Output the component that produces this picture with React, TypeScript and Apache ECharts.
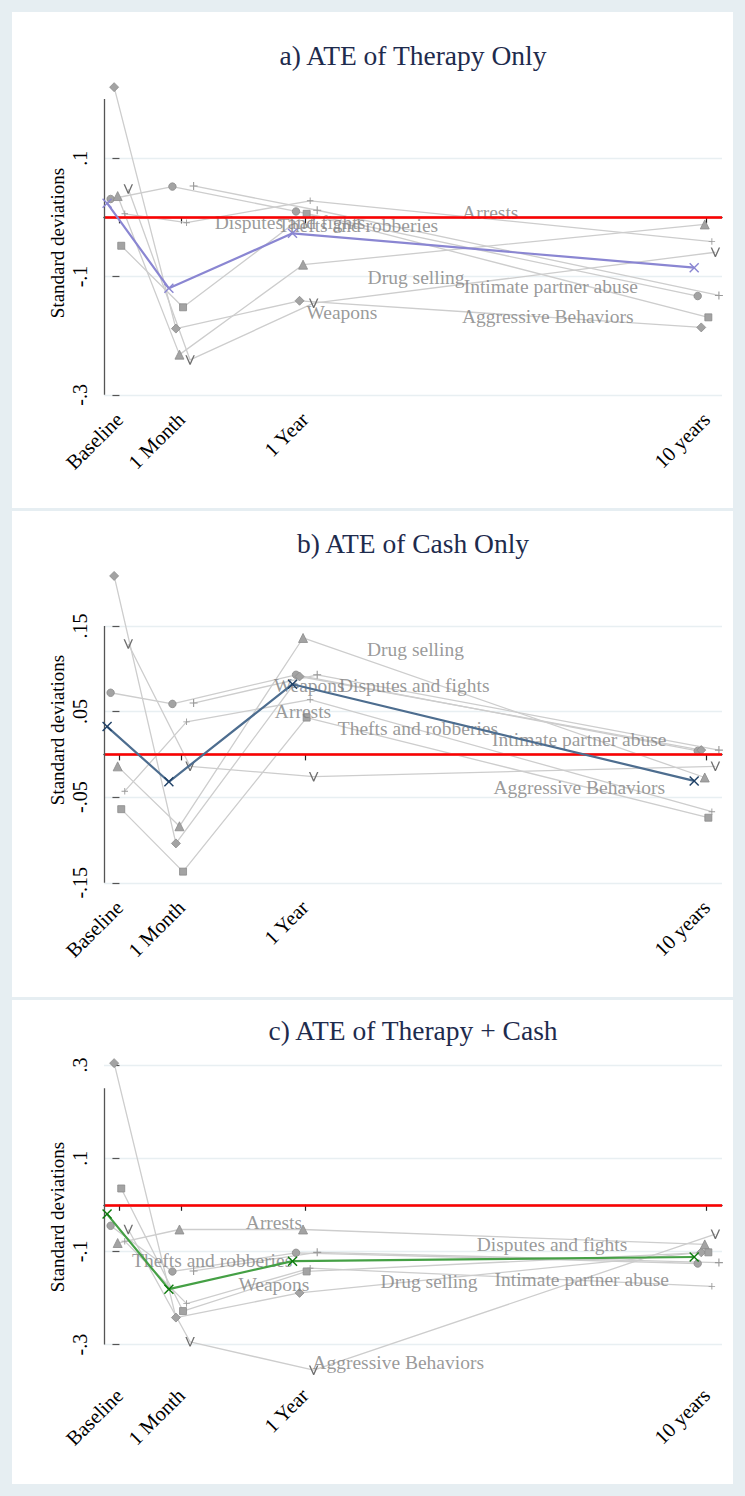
import React, { useEffect, useRef } from 'react';
import * as echarts from 'echarts';

// ---- time axis ----
const timeLabels = ['Baseline', '1 Month', '1 Year', '10 years'];
const timePos = [0, 1, 3, 9.5];

// ---- panel a) ATE of Therapy Only ----
const aIndex = [0.024, -0.12, -0.027, -0.085];
const aCircle = [0.031, 0.052, 0.01, -0.133];
const aDiamond = [0.22, -0.188, -0.141, -0.186];
const aTriangle = [0.036, -0.232, -0.08, -0.012];
const aSquare = [-0.048, -0.152, 0.006, -0.169];
const aSmallPlus = [0.006, -0.009, 0.028, -0.041];
const aChevron = [0.048, -0.241, -0.145, -0.059];
const aPlus = [null, 0.053, 0.012, -0.132];
const aTicks = [-0.3, -0.1, 0.1];
const aLabels: [string, number, number][] = [
  ['Arrests', 6.0, 0.009],
  ['Disputes and fights', 2.76, -0.009],
  ['Thefts and robberies', 3.86, -0.013],
  ['Drug selling', 4.8, -0.101],
  ['Intimate partner abuse', 6.98, -0.117],
  ['Weapons', 3.6, -0.16],
  ['Aggressive Behaviors', 6.93, -0.168],
];

// ---- panel b) ATE of Cash Only ----
const bIndex = [0.0325, -0.032, 0.082, -0.031];
const bCircle = [0.072, 0.059, 0.093, 0.004];
const bDiamond = [0.2085, -0.104, 0.091, 0.005];
const bTriangle = [-0.014, -0.084, 0.136, -0.027];
const bSquare = [-0.064, -0.137, 0.043, -0.074];
const bSmallPlus = [-0.043, 0.038, 0.064, -0.067];
const bChevron = [0.129, -0.014, -0.026, -0.014];
const bPlus = [null, 0.06, 0.093, 0.005];
const bTicks = [-0.15, -0.05, 0.05, 0.15];
const bLabels: [string, number, number][] = [
  ['Drug selling', 4.79, 0.122],
  ['Weapons', 3.07, 0.08],
  ['Disputes and fights', 4.77, 0.08],
  ['Arrests', 2.97, 0.05],
  ['Thefts and robberies', 4.83, 0.03],
  ['Intimate partner abuse', 7.44, 0.017],
  ['Aggressive Behaviors', 7.44, -0.039],
];

// ---- panel c) ATE of Therapy + Cash ----
const cIndex = [-0.02, -0.181, -0.121, -0.112];
const cCircle = [-0.045, -0.143, -0.103, -0.126];
const cDiamond = [0.304, -0.242, -0.189, -0.102];
const cTriangle = [-0.082, -0.053, -0.053, -0.085];
const cSquare = [0.035, -0.228, -0.143, -0.102];
const cSmallPlus = [-0.078, -0.212, -0.136, -0.175];
const cChevron = [-0.053, -0.294, -0.355, -0.063];
const cPlus = [null, -0.142, -0.102, -0.124];
const cTicks = [-0.3, -0.1, 0.1, 0.3];
const cLabels: [string, number, number][] = [
  ['Arrests', 2.5, -0.038],
  ['Thefts and robberies', 1.5, -0.119],
  ['Weapons', 2.5, -0.171],
  ['Drug selling', 5.01, -0.164],
  ['Disputes and fights', 7.0, -0.085],
  ['Intimate partner abuse', 7.48, -0.16],
  ['Aggressive Behaviors', 4.51, -0.338],
];

// ---- styles ----
const SERIF = "'Liberation Serif', 'DejaVu Serif', serif";
const PLUS = 'path://M4.3,0h1.4v4.3h4.3v1.4h-4.3v4.3h-1.4v-4.3h-4.3v-1.4h4.3z';
const CHEVRON = 'path://M0,0L1.5,0L5,7.2L8.5,0L10,0L5.6,9L4.4,9Z';
const XMARK = 'path://M0,1L1,0L5,4L9,0L10,1L6,5L10,9L9,10L5,6L1,10L0,9L4,5Z';
// jitter of each series around the time point: index, circle, diamond, triangle, square, small plus, chevron, plus
const jitter = [-0.2, -0.143, -0.086, -0.029, 0.029, 0.086, 0.143, 0.2];
const outcomeSymbols = ['circle', 'diamond', 'triangle', 'rect', PLUS, CHEVRON, PLUS];
const outcomeSizes = [7.5, 9, 9, 7, 6.5, 9.5, 8];

const panels = [
  {
    title: 'a) ATE of Therapy Only',
    index: aIndex,
    outcomes: [aCircle, aDiamond, aTriangle, aSquare, aSmallPlus, aChevron, aPlus],
    labels: aLabels,
    ticks: aTicks,
    yMin: -0.3205, yMax: 0.2, axisLo: -0.3, axisHi: 0.2,
    top: 99, height: 308,
    lineColor: '#8a86d2', markColor: '#8a86d2',
    titleY: 55, yTitleY: 243,
  },
  {
    title: 'b) ATE of Cash Only',
    index: bIndex,
    outcomes: [bCircle, bDiamond, bTriangle, bSquare, bSmallPlus, bChevron, bPlus],
    labels: bLabels,
    ticks: bTicks,
    yMin: -0.1643, yMax: 0.15, axisLo: -0.15, axisHi: 0.15,
    top: 626, height: 269,
    lineColor: '#4d6d8f', markColor: '#1f4066',
    titleY: 543, yTitleY: 730,
  },
  {
    title: 'c) ATE of Therapy + Cash',
    index: cIndex,
    outcomes: [cCircle, cDiamond, cTriangle, cSquare, cSmallPlus, cChevron, cPlus],
    labels: cLabels,
    ticks: cTicks,
    yMin: -0.3824, yMax: 0.3, axisLo: -0.3, axisHi: 0.25,
    top: 1065, height: 318,
    lineColor: '#45a045', markColor: '#0c7a0c',
    titleY: 1030, yTitleY: 1217,
  },
];

const X_MIN = -0.25;
const X_MAX = 9.75;

function fmtY(v: number) {
  const s = String(Math.abs(Math.round(v * 1000) / 1000)).replace(/^0/, '');
  return (v < 0 ? '-' : '') + s;
}

function toPoints(vals: (number | null)[], off: number) {
  const pts: number[][] = [];
  vals.forEach((v, i) => {
    if (v !== null) pts.push([timePos[i] + off, v]);
  });
  return pts;
}

export default function App() {
  const ref = useRef<HTMLDivElement>(null);
  useEffect(() => {
    if (!ref.current) return;
    const chart = echarts.init(ref.current, undefined, { renderer: 'svg' });
    const grids: any[] = [];
    const xAxes: any[] = [];
    const yAxes: any[] = [];
    const series: any[] = [];
    const graphics: any[] = [
      { type: 'rect', shape: { x: 0, y: 0, width: 745, height: 1496 }, style: { fill: '#e6eef2' }, z: -10, silent: true },
      { type: 'rect', shape: { x: 12, y: 12, width: 721, height: 496 }, style: { fill: '#ffffff' }, z: -9, silent: true },
      { type: 'rect', shape: { x: 12, y: 511, width: 721, height: 486 }, style: { fill: '#ffffff' }, z: -9, silent: true },
      { type: 'rect', shape: { x: 12, y: 1000, width: 721, height: 484 }, style: { fill: '#ffffff' }, z: -9, silent: true },
    ];

    panels.forEach((p, pi) => {
      grids.push({ left: 104, width: 618, top: p.top, height: p.height, containLabel: false });
      xAxes.push({
        type: 'value', gridIndex: pi, min: X_MIN, max: X_MAX,
        axisLine: { show: true, lineStyle: { color: '#222', width: 1.3 } },
        axisTick: { show: true, length: 6, customValues: timePos, lineStyle: { color: '#222', width: 1.2 } },
        axisLabel: {
          customValues: timePos, rotate: 45, margin: 9,
          formatter: (v: number) => timeLabels[timePos.indexOf(v)] ?? '',
          color: '#000', fontFamily: SERIF, fontSize: 20.5,
        },
        splitLine: { show: false },
      });
      yAxes.push({
        type: 'value', gridIndex: pi, min: p.yMin, max: p.yMax,
        axisLine: { show: false },
        axisTick: { show: true, length: 7, customValues: p.ticks, lineStyle: { color: '#555', width: 1.2 } },
        axisLabel: {
          customValues: p.ticks, rotate: 90, margin: 14,
          formatter: (v: number) => fmtY(v),
          color: '#000', fontFamily: SERIF, fontSize: 20,
        },
        splitLine: { show: true, lineStyle: { color: '#e8eff2', width: 1.3 } },
      });

      // reference: y axis line + zero line
      series.push({
        type: 'line', xAxisIndex: pi, yAxisIndex: pi, data: [], silent: true, z: 2,
        markLine: {
          silent: true, symbol: 'none', animation: false,
          label: { show: false },
          data: [
            { yAxis: 0, lineStyle: { color: '#ff0000', width: 2.6, type: 'solid' } },
            [
              { coord: [X_MIN, p.axisLo], lineStyle: { color: '#555', width: 1.3, type: 'solid' } },
              { coord: [X_MIN, p.axisHi] },
            ],
          ],
        },
      });

      p.outcomes.forEach((vals, si) => {
        const sym = outcomeSymbols[si];
        const isStroke = si === 4 || si === 5 || si === 6;
        series.push({
          type: 'line', xAxisIndex: pi, yAxisIndex: pi, clip: false, z: 3,
          data: toPoints(vals, jitter[si + 1]),
          symbol: sym, symbolSize: outcomeSizes[si], showSymbol: true,
          lineStyle: { color: '#cdcdcd', width: 1.3 },
          itemStyle: isStroke
            ? { color: si === 5 ? '#6e6e6e' : '#9a9a9a', borderWidth: 0 }
            : { color: '#a3a3a3', borderColor: '#8c8c8c', borderWidth: 0.8 },
          emphasis: { disabled: true },
        });
      });

      series.push({
        type: 'line', xAxisIndex: pi, yAxisIndex: pi, clip: false, z: 5,
        data: toPoints(p.index, jitter[0]),
        symbol: XMARK, symbolSize: 10, showSymbol: true,
        lineStyle: { color: p.lineColor, width: 2.2 },
        itemStyle: { color: p.markColor },
        emphasis: { disabled: true },
      });

      series.push({
        type: 'scatter', xAxisIndex: pi, yAxisIndex: pi, clip: false, z: 4,
        symbolSize: 0, silent: true,
        data: p.labels.map(([name, x, y]) => ({ name, value: [x, y] })),
        label: {
          show: true, position: 'inside', formatter: '{b}',
          color: '#808080', fontFamily: SERIF, fontSize: 19.5,
        },
        labelLayout: { hideOverlap: false },
      });

      graphics.push({
        type: 'text', x: 413, y: p.titleY, z: 10,
        style: { text: p.title, fontFamily: SERIF, fontSize: 27.5, fill: '#1e2b4d', align: 'center', verticalAlign: 'middle' },
      });
      graphics.push({
        type: 'text', x: 57, y: p.yTitleY, rotation: Math.PI / 2, z: 10,
        style: { text: 'Standard deviations', fontFamily: SERIF, fontSize: 19, fill: '#000', align: 'center', verticalAlign: 'middle' },
      });
    });

    chart.setOption({
      animation: false,
      backgroundColor: '#ffffff',
      grid: grids,
      xAxis: xAxes,
      yAxis: yAxes,
      series,
      graphic: graphics,
    });
    return () => chart.dispose();
  }, []);
  return (
    <div
      ref={ref}
      style={{ position: 'absolute', left: 0, top: 0, width: 745, height: 1496 }}
    />
  );
}
